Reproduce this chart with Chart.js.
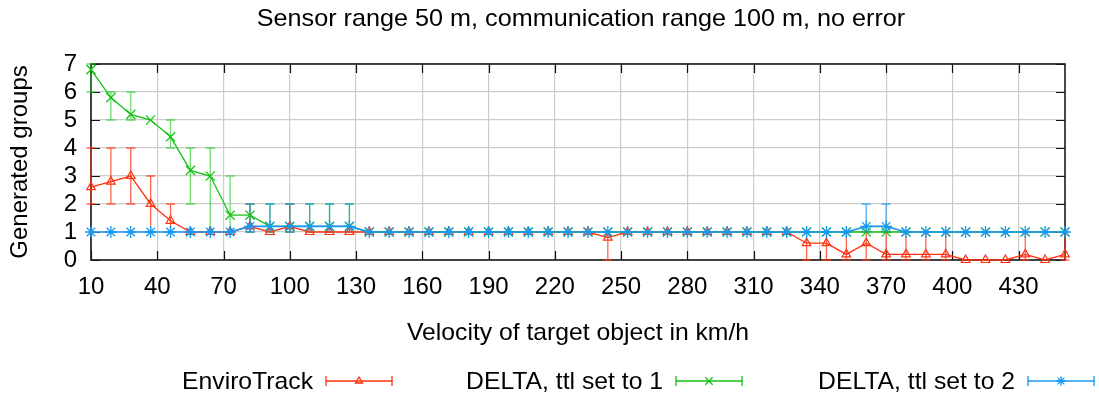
<!DOCTYPE html>
<html>
<head>
<meta charset="utf-8">
<script src="https://cdn.jsdelivr.net/npm/chart.js@4/dist/chart.umd.min.js"></script>
<style>
html,body{margin:0;padding:0;background:#fff;}
canvas{display:block;}
</style>
</head>
<body>
<canvas id="c" width="1099" height="396"></canvas>
<script>
// ---------- data ----------
const velocities = [10,19,28,37,46,55,64,73,82,91,100,109,118,127,136,145,154,163,172,181,190,199,208,217,226,235,244,253,262,271,280,289,298,307,316,325,334,343,352,361,370,379,388,397,406,415,424,433,442,451];
const xTickValues = [10,40,70,100,130,160,190,220,250,280,310,340,370,400,430];
const yTickValues = [0,1,2,3,4,5,6,7];

const enviroMean = [2.6,2.8,3.0,2.0,1.4,1.0,1.0,1.0,1.2,1.0,1.2,1.0,1.0,1.0,1,1,1,1,1,1,1,1,1,1,1,1,0.8,1,1,1,1,1,1,1,1,1,0.6,0.6,0.2,0.6,0.2,0.2,0.2,0.2,0,0,0,0.2,0,0.2];
const enviroLow  = [2,2,2,1,1,1,1,1,1,1,1,1,1,1,1,1,1,1,1,1,1,1,1,1,1,1,0,1,1,1,1,1,1,1,1,1,0,0,0,0,0,0,0,0,0,0,0,0,0,0];
const enviroHigh = [4,4,4,3,2,1,1,1,2,1,2,1,1,1,1,1,1,1,1,1,1,1,1,1,1,1,1,1,1,1,1,1,1,1,1,1,1,1,1,1,1,1,1,1,0,0,0,1,0,1];

const ttl1Mean = [6.8,5.8,5.2,5.0,4.4,3.2,3.0,1.6,1.6,1.2,1.2,1.2,1.2,1.2,1,1,1,1,1,1,1,1,1,1,1,1,1,1,1,1,1,1,1,1,1,1,1,1,1,1,1,1,1,1,1,1,1,1,1,1];
const ttl1Low  = [6,5,5,5,4,2,1,1,1,1,1,1,1,1,1,1,1,1,1,1,1,1,1,1,1,1,1,1,1,1,1,1,1,1,1,1,1,1,1,1,1,1,1,1,1,1,1,1,1,1];
const ttl1High = [7,6,6,5,5,4,4,3,2,2,2,2,2,2,1,1,1,1,1,1,1,1,1,1,1,1,1,1,1,1,1,1,1,1,1,1,1,1,1,1,1,1,1,1,1,1,1,1,1,1];

const ttl2Mean = [1,1,1,1,1,1,1,1,1.2,1.2,1.2,1.2,1.2,1.2,1,1,1,1,1,1,1,1,1,1,1,1,1,1,1,1,1,1,1,1,1,1,1,1,1,1.2,1.2,1,1,1,1,1,1,1,1,1];
const ttl2Low  = [1,1,1,1,1,1,1,1,1,1,1,1,1,1,1,1,1,1,1,1,1,1,1,1,1,1,1,1,1,1,1,1,1,1,1,1,1,1,1,1,1,1,1,1,1,1,1,1,1,1];
const ttl2High = [1,1,1,1,1,1,1,1,2,2,2,2,2,2,1,1,1,1,1,1,1,1,1,1,1,1,1,1,1,1,1,1,1,1,1,1,1,1,1,2,2,1,1,1,1,1,1,1,1,1];

const seriesNames = ['EnviroTrack', 'DELTA, ttl set to 1', 'DELTA, ttl set to 2'];
const titleText = 'Sensor range 50 m, communication range 100 m, no error';
const xTitle = 'Velocity of target object in km/h';
const yTitle = 'Generated groups';

// ---------- styling ----------
const FONT = "'Liberation Sans', Arial, Helvetica, sans-serif";
const RED = '#ff3210', GREEN = '#14c314', BLUE = '#1898f0';
const RED_E = 'rgba(255,50,16,0.75)', GREEN_E = 'rgba(30,200,30,0.65)', BLUE_E = 'rgba(24,152,240,0.75)';

function pts(mean){ return velocities.map((v,i)=>({x:v, y:mean[i]})); }

const datasets = [
  {label: seriesNames[0], data: pts(enviroMean), errLow: enviroLow, errHigh: enviroHigh, errColor: RED_E,
   borderColor: RED, borderWidth: 1.3, pointStyle: 'triangle', pointRadius: 5, pointBorderWidth: 1.2,
   pointBorderColor: RED, pointBackgroundColor: 'rgba(0,0,0,0)', order: 3, clip: false},
  {label: seriesNames[1], data: pts(ttl1Mean), errLow: ttl1Low, errHigh: ttl1High, errColor: GREEN_E,
   borderColor: GREEN, borderWidth: 1.3, pointStyle: 'crossRot', pointRadius: 6.5, pointBorderWidth: 1.3,
   pointBorderColor: GREEN, pointBackgroundColor: GREEN, order: 2, clip: false},
  {label: seriesNames[2], data: pts(ttl2Mean), errLow: ttl2Low, errHigh: ttl2High, errColor: BLUE_E,
   borderColor: BLUE, borderWidth: 1.6, pointStyle: 'star', pointRadius: 6, pointBorderWidth: 1.3,
   pointBorderColor: BLUE, pointBackgroundColor: BLUE, order: 1, clip: false}
];

function drawText(ctx, s, x, y, align, sx){
  ctx.save();
  ctx.translate(x, y);
  ctx.scale(sx, 1);
  ctx.textAlign = align;
  ctx.textBaseline = 'alphabetic';
  ctx.fillText(s, 0, 0);
  ctx.restore();
}

const framePlugin = {
  id: 'frameAndErrors',
  beforeDatasetsDraw(chart){
    const {ctx, chartArea: a, scales: {x, y}} = chart;
    ctx.save();
    // inward tick marks
    ctx.strokeStyle = '#111';
    ctx.lineWidth = 1.2;
    ctx.beginPath();
    x.ticks.forEach(t => {
      const px = Math.round(x.getPixelForValue(t.value)) + 0.5;
      ctx.moveTo(px, a.bottom); ctx.lineTo(px, a.bottom - 9);
      ctx.moveTo(px, a.top); ctx.lineTo(px, a.top + 9);
    });
    y.ticks.forEach(t => {
      const py = Math.round(y.getPixelForValue(t.value)) + 0.5;
      ctx.moveTo(a.left, py); ctx.lineTo(a.left + 9, py);
      ctx.moveTo(a.right, py); ctx.lineTo(a.right - 9, py);
    });
    ctx.stroke();
    // frame
    ctx.strokeStyle = '#1a1a1a';
    ctx.lineWidth = 1.6;
    ctx.strokeRect(a.left, a.top, a.right - a.left, a.bottom - a.top);
    // error bars
    chart.data.datasets.forEach(ds => {
      ctx.strokeStyle = ds.errColor;
      ctx.lineWidth = 1.3;
      ctx.beginPath();
      velocities.forEach((v, i) => {
        const lo = ds.errLow[i], hi = ds.errHigh[i];
        if (hi <= lo) return;
        const px = x.getPixelForValue(v);
        const p1 = y.getPixelForValue(lo), p2 = y.getPixelForValue(hi);
        ctx.moveTo(px, p1); ctx.lineTo(px, p2);
        ctx.moveTo(px - 4.5, p1); ctx.lineTo(px + 4.5, p1);
        ctx.moveTo(px - 4.5, p2); ctx.lineTo(px + 4.5, p2);
      });
      ctx.stroke();
    });
    ctx.restore();
  },
  afterDraw(chart){
    const {ctx, chartArea: a} = chart;
    ctx.save();
    ctx.fillStyle = '#000';
    ctx.font = '24px ' + FONT;
    // title
    drawText(ctx, titleText, (a.left + a.right) / 2 + 3, 26, 'center', 1.05);
    // x title
    drawText(ctx, xTitle, (a.left + a.right) / 2, 340, 'center', 1.03);
    // y title
    ctx.save();
    ctx.translate(27, (a.top + a.bottom) / 2);
    ctx.rotate(-Math.PI / 2);
    ctx.textAlign = 'center';
    ctx.textBaseline = 'alphabetic';
    ctx.fillText(yTitle, 0, 0);
    ctx.restore();
    // legend
    const sampleStarts = [326, 676, 1028];
    const ly = 381;
    chart.data.datasets.forEach((ds, k) => {
      const sx = sampleStarts[k];
      ctx.fillStyle = '#000';
      drawText(ctx, ds.label, sx - 13, 389, 'right', 1.03);
      ctx.strokeStyle = ds.borderColor;
      ctx.lineWidth = 1.3;
      ctx.beginPath();
      ctx.moveTo(sx, ly); ctx.lineTo(sx + 66, ly);
      ctx.moveTo(sx, ly - 5); ctx.lineTo(sx, ly + 5);
      ctx.moveTo(sx + 66, ly - 5); ctx.lineTo(sx + 66, ly + 5);
      ctx.stroke();
      ctx.fillStyle = ds.pointBackgroundColor;
      Chart.helpers.drawPoint(ctx, {pointStyle: ds.pointStyle, radius: ds.pointRadius * 0.8, rotation: 0, borderWidth: 1.2}, sx + 33, ly);
    });
    ctx.restore();
  }
};

new Chart(document.getElementById('c'), {
  type: 'line',
  data: {datasets},
  options: {
    responsive: false,
    animation: false,
    devicePixelRatio: 1,
    layout: {padding: {top: 64, right: 34, bottom: 0, left: 0}},
    plugins: {legend: {display: false}, tooltip: {enabled: false}, title: {display: false}},
    elements: {line: {tension: 0}},
    scales: {
      x: {
        type: 'linear', min: 10, max: 451,
        afterBuildTicks: s => { s.ticks = xTickValues.map(v => ({value: v})); },
        afterFit: s => { s.height = 396 - 260; },
        grid: {color: '#cccccc', lineWidth: 1.2, drawTicks: false},
        border: {display: false},
        ticks: {font: {family: FONT, size: 24}, color: '#000', padding: 13, maxRotation: 0, autoSkip: false}
      },
      y: {
        type: 'linear', min: 0, max: 7,
        afterBuildTicks: s => { s.ticks = yTickValues.map(v => ({value: v})); },
        afterFit: s => { s.width = 91; },
        grid: {color: '#cccccc', lineWidth: 1.2, drawTicks: false},
        border: {display: false},
        ticks: {font: {family: FONT, size: 24}, color: '#000', padding: 14, autoSkip: false}
      }
    }
  },
  plugins: [framePlugin]
});
</script>
</body>
</html>
